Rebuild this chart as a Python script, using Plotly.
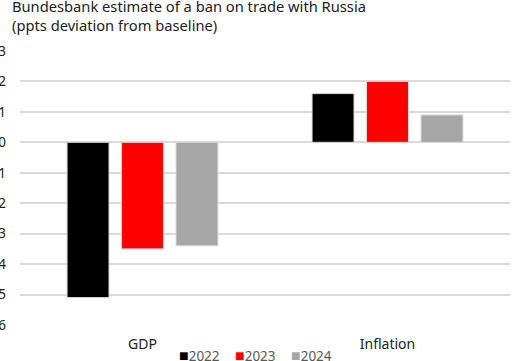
import plotly.graph_objects as go

categories = ["GDP", "Inflation"]
years = ["2022", "2023", "2024"]
values_2022 = [-5.1, 1.6]
values_2023 = [-3.5, 2.0]
values_2024 = [-3.4, 0.9]
colors = ["#000000", "#ff0000", "#a6a6a6"]
y_ticks = [3, 2, 1, 0, -1, -2, -3, -4, -5, -6]
legend_x = [0.320, 0.435, 0.549]

series = [values_2022, values_2023, values_2024]
FONT = "Noto Sans"

fig = go.Figure()
for name, vals, col in zip(years, series, colors):
    fig.add_trace(go.Bar(
        x=categories, y=vals, name=name, showlegend=False,
        marker=dict(color=col, line=dict(color="#d9d9d9", width=1)),
    ))

# legend built from the series names / colours
for name, col, lx in zip(years, colors, legend_x):
    fig.add_annotation(
        x=lx, y=-0.110, xref="paper", yref="paper",
        xanchor="left", yanchor="middle", showarrow=False,
        text=f'<span style="color:{col};font-size:16px">■</span>{name}',
        font=dict(family=FONT, size=13.5, color="#595959"),
    )

fig.update_layout(
    width=516, height=361,
    margin=dict(l=20, r=6, t=51, b=36),
    paper_bgcolor="white", plot_bgcolor="white",
    barmode="group", bargap=0.333, bargroupgap=0.23,
    font=dict(family=FONT, size=13, color="#222222"),
    title=dict(
        text="Bundesbank estimate of a ban on trade with Russia<br>(ppts deviation from baseline)",
        x=12 / 516, xref="container", xanchor="left",
        y=0.966, yref="container", yanchor="top",
        font=dict(family=FONT, size=14.7, color="#222222"),
    ),
    showlegend=False,
)
fig.update_xaxes(showgrid=False, showline=False, ticks="", automargin=False,
                 ticklabelstandoff=9,
                 tickfont=dict(size=14, color="#222222"))
fig.update_yaxes(range=[-6, 3], tickvals=y_ticks, showgrid=True, automargin=False,
                 gridcolor="#d9d9d9", gridwidth=2, zeroline=True,
                 zerolinecolor="#d9d9d9", zerolinewidth=2,
                 ticks="", ticklabelstandoff=13,
                 tickfont=dict(size=13.5, color="#222222"))

fig.write_html("out.html", config={"displayModeBar": False},
               post_script="document.body.style.margin='0';document.body.style.overflow='hidden';")
